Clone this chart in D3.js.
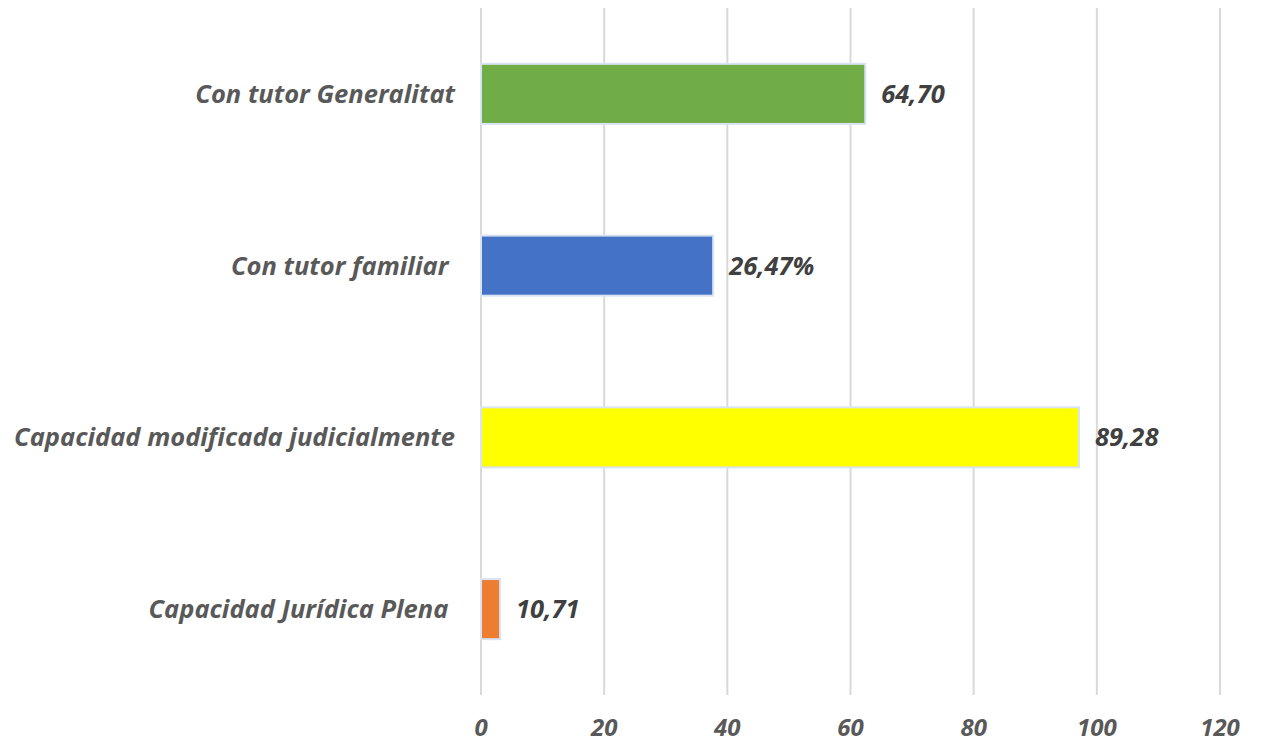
<!DOCTYPE html>
<html>
<head>
<meta charset="utf-8">
<script src="https://cdn.jsdelivr.net/npm/d3@7"></script>
<style>
  body { margin: 0; background: #fff; }
  text { font-family: "Open Sans", sans-serif; font-weight: bold; font-style: italic; white-space: pre; }
</style>
</head>
<body>
<div id="chart"></div>
<script>
// Categories from top to bottom
const categories = ["Con tutor Generalitat", "Con tutor familiar ", "Capacidad modificada judicialmente", "Capacidad Jurídica Plena "];
// Bar lengths as drawn in the picture
const values = [62.4, 37.7, 97.1, 3.1];
// Labels printed beside the bars
const valueLabels = ["64,70", "26,47%", "89,28", "10,71"];
const colors = ["#70AD47", "#4472C4", "#FFFF00", "#ED7D31"];
const xTicks = [0, 20, 40, 60, 80, 100, 120];

const width = 1263, height = 742;
const svg = d3.select("#chart").append("svg")
    .attr("width", width)
    .attr("height", height);

const x = d3.scaleLinear().domain([0, 120]).range([481, 1220]);
const y = d3.scaleBand().domain(categories).range([8, 695]).paddingInner(0.65).paddingOuter(0.325);

// Gridlines
svg.selectAll("line.grid")
    .data(xTicks)
    .enter().append("line")
        .attr("class", "grid")
        .attr("x1", d => x(d)).attr("x2", d => x(d))
        .attr("y1", 8).attr("y2", 695)
        .style("stroke", "#d9d9d9")
        .style("stroke-width", 2);

// Tick labels
svg.selectAll("text.tick")
    .data(xTicks)
    .enter().append("text")
        .attr("class", "tick")
        .attr("x", d => x(d))
        .attr("y", 736)
        .attr("text-anchor", "middle")
        .style("font-size", "24px")
        .style("fill", "#595959")
        .text(d => d);

// Bars
svg.selectAll("rect.bar")
    .data(categories)
    .enter().append("rect")
        .attr("class", "bar")
        .attr("x", x(0))
        .attr("y", d => y(d))
        .attr("width", (d, i) => x(values[i]) - x(0))
        .attr("height", y.bandwidth())
        .style("fill", (d, i) => colors[i])
        .style("stroke", "#dae3f3")
        .style("stroke-width", 2);

// Value labels
svg.selectAll("text.value")
    .data(categories)
    .enter().append("text")
        .attr("class", "value")
        .attr("x", (d, i) => x(values[i]) + 16)
        .attr("y", d => y(d) + y.bandwidth() / 2)
        .attr("dy", "0.35em")
        .style("font-size", "25.5px")
        .style("fill", "#404040")
        .text((d, i) => valueLabels[i]);

// Category labels
svg.selectAll("text.cat")
    .data(categories)
    .enter().append("text")
        .attr("class", "cat")
        .attr("x", 455)
        .attr("y", d => y(d) + y.bandwidth() / 2)
        .attr("dy", "0.35em")
        .attr("text-anchor", "end")
        .style("font-size", "25.5px")
        .style("fill", "#595959")
        .text(d => d);
</script>
</body>
</html>
